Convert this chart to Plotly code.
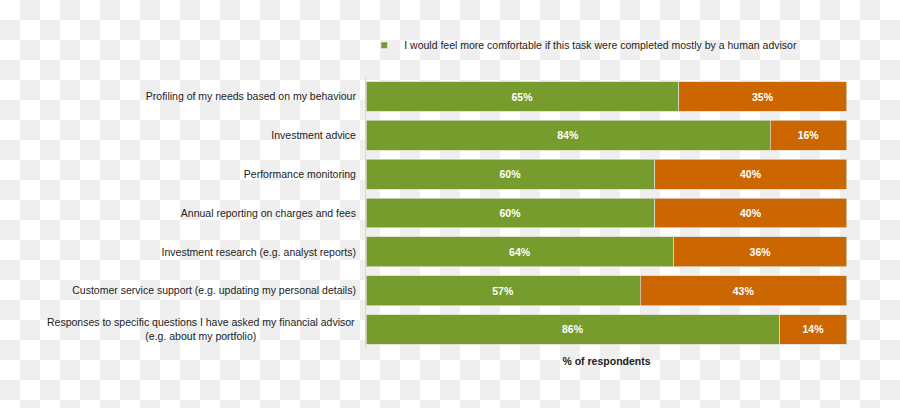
import base64
import plotly.graph_objects as go

categories = [
    "Profiling of my needs based on my behaviour",
    "Investment advice",
    "Performance monitoring",
    "Annual reporting on charges and fees",
    "Investment research (e.g. analyst reports)",
    "Customer service support (e.g. updating my personal details)",
    "Responses to specific questions I have asked my financial advisor<br>(e.g. about my portfolio)",
]
human = [65, 84, 60, 60, 64, 57, 86]
other = [35, 16, 40, 40, 36, 43, 14]
legend_name = "I would feel more comfortable if this task were completed mostly by a human advisor"
x_title = "% of respondents"

GREEN = "#769c2d"
ORANGE = "#cc6600"
FONT = "Liberation Sans, Arial, sans-serif"
FS = 10.5

# checkerboard backdrop (transparency pattern seen in the reference)
svg = (
    '<svg xmlns="http://www.w3.org/2000/svg" width="900" height="408">'
    '<defs><pattern id="p" width="40" height="40" patternUnits="userSpaceOnUse">'
    '<rect width="40" height="40" fill="#ffffff"/>'
    '<rect x="20" y="0" width="20" height="20" fill="#efefef"/>'
    '<rect x="0" y="20" width="20" height="20" fill="#efefef"/>'
    '</pattern></defs><rect width="900" height="408" fill="url(#p)"/></svg>'
)
svg_uri = "data:image/svg+xml;base64," + base64.b64encode(svg.encode()).decode()

fig = go.Figure()
fig.add_trace(go.Bar(
    y=categories, x=human, orientation="h", name=legend_name,
    marker=dict(color=GREEN, line=dict(color="#d9d9c8", width=0.75)),
    text=[f"{v}%" for v in human], textposition="inside", insidetextanchor="middle",
    textfont=dict(color="white", size=FS, family=FONT, weight="bold"),
    showlegend=False, hoverinfo="skip",
))
fig.add_trace(go.Bar(
    y=categories, x=other, orientation="h", name="other",
    marker=dict(color=ORANGE, line=dict(color="#d9d9c8", width=0.75)),
    text=[f"{v}%" for v in other], textposition="inside", insidetextanchor="middle",
    textfont=dict(color="white", size=FS, family=FONT, weight="bold"),
    showlegend=False, hoverinfo="skip",
))
# legend entry with a small square marker
fig.add_trace(go.Scatter(
    x=[None], y=[None], mode="markers", name=legend_name,
    marker=dict(symbol="square", size=6, color=GREEN), showlegend=True,
))

# multi-line category labels are centred line by line, as in the reference
ticktext = [c if "<br>" not in c else "" for c in categories]
wrapped = [dict(text=c, x=357 / 900, xref="paper", xanchor="right", y=c, yref="y",
                yanchor="middle", align="center", showarrow=False,
                font=dict(size=FS, color="#222222", family=FONT))
           for c in categories if "<br>" in c]

fig.update_layout(
    width=900, height=408,
    margin=dict(l=0, r=0, t=0, b=0),
    paper_bgcolor="white", plot_bgcolor="rgba(0,0,0,0)",
    barmode="stack", bargap=0.23,
    font=dict(family=FONT, size=FS, color="#222222"),
    images=[dict(source=svg_uri, xref="paper", yref="paper", x=0, y=1,
                 sizex=1, sizey=1, sizing="stretch", layer="below")],
    legend=dict(x=0.4047, y=0.889, xanchor="left", yanchor="middle",
                orientation="h", bgcolor="rgba(0,0,0,0)",
                font=dict(size=FS, color="#222222", family=FONT),
                itemwidth=30, tracegroupgap=0),
    annotations=wrapped,
    xaxis=dict(domain=[0.4067, 0.9411], range=[0, 100], showticklabels=False,
               showgrid=False, zeroline=False, showline=False, ticks="",
               title=dict(text="<b>" + x_title + "</b>", standoff=8,
                          font=dict(size=FS, color="#222222", family=FONT))),
    yaxis=dict(domain=[0.1449, 0.8110], range=[6.5, -0.5], showgrid=False,
               zeroline=False, showline=True, linecolor="#d9d9d9", linewidth=1,
               ticks="", ticklabelstandoff=7,
               tickmode="array", tickvals=categories, ticktext=ticktext,
               tickfont=dict(size=FS, color="#222222", family=FONT)),
)

fig.write_html("out.html", config={"displayModeBar": False},
               post_script="document.body.style.margin='0';document.body.style.overflow='hidden';")
